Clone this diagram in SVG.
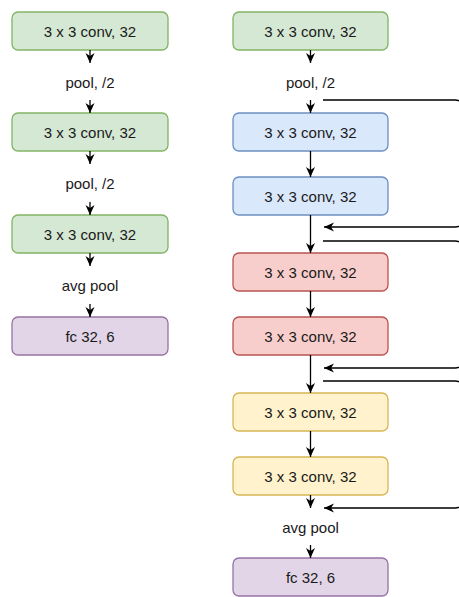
<svg xmlns="http://www.w3.org/2000/svg" width="459" height="597" viewBox="0 0 459 597">
  <style>
    .box { stroke-width: 1.3; }
    .green { fill: #d5e8d4; stroke: #82b366; }
    .blue { fill: #dae8fc; stroke: #6c8ebf; }
    .red { fill: #f8cecc; stroke: #b85450; }
    .yellow { fill: #fff2cc; stroke: #d6b656; }
    .purple { fill: #e1d5e7; stroke: #9673a6; }
    text { font-family: "Liberation Sans", Arial, sans-serif; font-size: 15px; fill: #1a1a1a; text-anchor: middle; }
    .edge { fill: none; stroke: #000; stroke-width: 1.3; marker-end: url(#arrow); }
  </style>
  <defs>
    <marker id="arrow" markerUnits="userSpaceOnUse" markerWidth="10" markerHeight="10" viewBox="0 0 10 10" refX="10" refY="5" orient="auto">
      <path d="M0,0.5 L10,5 L0,9.5 L3,5 Z" fill="#000"/>
    </marker>
  </defs>

  <!-- plain network -->
  <g id="plain-conv1"><rect class="box green" x="12" y="12" width="156" height="38" rx="6"/><text x="90" y="36.5">3 x 3 conv, 32</text></g>
  <g id="plain-pool1"><text x="90" y="88">pool, /2</text></g>
  <g id="plain-conv2"><rect class="box green" x="12" y="113" width="156" height="38" rx="6"/><text x="90" y="137.5">3 x 3 conv, 32</text></g>
  <g id="plain-pool2"><text x="90" y="189">pool, /2</text></g>
  <g id="plain-conv3"><rect class="box green" x="12" y="215" width="156" height="38" rx="6"/><text x="90" y="239.5">3 x 3 conv, 32</text></g>
  <g id="plain-avgpool"><text x="90" y="291">avg pool</text></g>
  <g id="plain-fc"><rect class="box purple" x="12" y="317" width="156" height="38" rx="6"/><text x="90" y="341.5">fc 32, 6</text></g>

  <!-- residual network -->
  <g id="res-conv0"><rect class="box green" x="233" y="12" width="155" height="38" rx="6"/><text x="310.5" y="36.5">3 x 3 conv, 32</text></g>
  <g id="res-pool"><text x="310.5" y="88">pool, /2</text></g>
  <g id="res-block1a"><rect class="box blue" x="233" y="113" width="155" height="38" rx="6"/><text x="310.5" y="137.5">3 x 3 conv, 32</text></g>
  <g id="res-block1b"><rect class="box blue" x="233" y="177" width="155" height="38" rx="6"/><text x="310.5" y="201.5">3 x 3 conv, 32</text></g>
  <g id="res-block2a"><rect class="box red" x="233" y="253" width="155" height="38" rx="6"/><text x="310.5" y="277.5">3 x 3 conv, 32</text></g>
  <g id="res-block2b"><rect class="box red" x="233" y="317" width="155" height="38" rx="6"/><text x="310.5" y="341.5">3 x 3 conv, 32</text></g>
  <g id="res-block3a"><rect class="box yellow" x="233" y="393" width="155" height="38" rx="6"/><text x="310.5" y="417.5">3 x 3 conv, 32</text></g>
  <g id="res-block3b"><rect class="box yellow" x="233" y="457" width="155" height="38" rx="6"/><text x="310.5" y="481.5">3 x 3 conv, 32</text></g>
  <g id="res-avgpool"><text x="310.5" y="533">avg pool</text></g>
  <g id="res-fc"><rect class="box purple" x="233" y="558" width="155" height="38" rx="6"/><text x="310.5" y="582.5">fc 32, 6</text></g>

  <g id="connectors">
    <!-- plain column -->
    <path class="edge" d="M90,50 V63"/>
    <path class="edge" d="M90,100 V113"/>
    <path class="edge" d="M90,151 V164"/>
    <path class="edge" d="M90,202 V215"/>
    <path class="edge" d="M90,253 V266"/>
    <path class="edge" d="M90,304 V317"/>

    <!-- residual column -->
    <path class="edge" d="M310.5,50 V63"/>
    <path class="edge" d="M310.5,100 V113"/>
    <path class="edge" d="M310.5,151 V177"/>
    <path class="edge" d="M310.5,215 V253"/>
    <path class="edge" d="M310.5,291 V317"/>
    <path class="edge" d="M310.5,355 V393"/>
    <path class="edge" d="M310.5,431 V457"/>
    <path class="edge" d="M310.5,495 V508"/>
    <path class="edge" d="M310.5,545 V558"/>

    <!-- shortcut connections -->
    <path class="edge" d="M323,100 H455 Q463,100 463,108 V219 Q463,227 455,227 H324"/>
    <path class="edge" d="M323,241 H455 Q463,241 463,249 V360 Q463,368 455,368 H324"/>
    <path class="edge" d="M323,381 H455 Q463,381 463,389 V500 Q463,508 455,508 H324"/>
  </g>
</svg>
